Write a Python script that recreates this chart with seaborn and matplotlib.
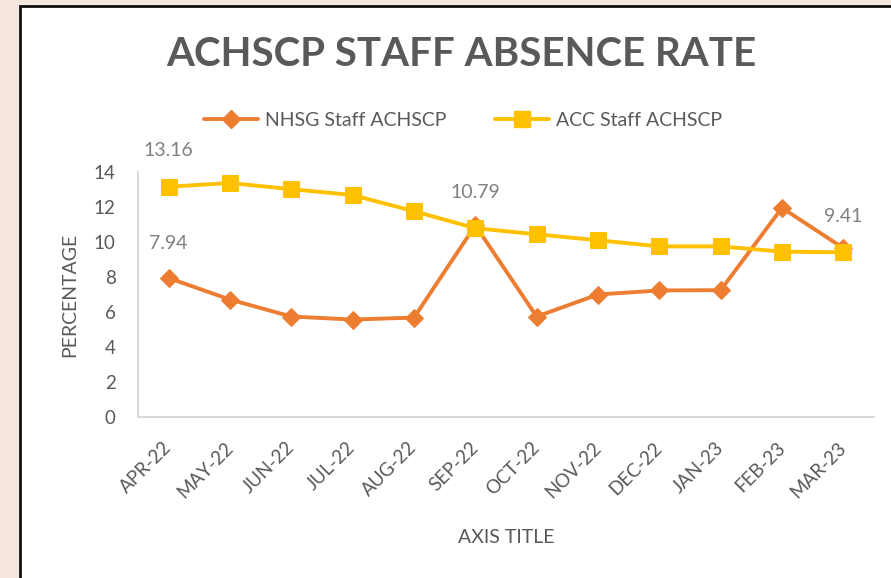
import seaborn as sns
import matplotlib.pyplot as plt
import pandas as pd
from matplotlib.patches import Rectangle
from matplotlib.lines import Line2D

months = ["APR-22", "MAY-22", "JUN-22", "JUL-22", "AUG-22", "SEP-22",
          "OCT-22", "NOV-22", "DEC-22", "JAN-23", "FEB-23", "MAR-23"]
nhsg = [7.94, 6.71, 5.74, 5.57, 5.68, 10.95, 5.74, 7.0, 7.23, 7.25, 11.95, 9.65]
acc = [13.16, 13.37, 13.02, 12.68, 11.76, 10.79, 10.44, 10.1, 9.75, 9.75, 9.45, 9.41]
labels_nhsg = {0: "7.94"}
labels_acc = {0: "13.16", 5: "10.79", 11: "9.41"}

ORANGE = "#ED7D31"
YELLOW = "#FFC000"
GREY = "#595959"

sns.set_style("white")
plt.rcParams['font.family'] = ['Lato', 'DejaVu Sans']

df = pd.DataFrame({"pos": range(len(months)), "month": months, "nhsg": nhsg, "acc": acc})

fig = plt.figure(figsize=(8.91, 5.78), dpi=100)
fig.patch.set_facecolor("#F5E7DE")
fig.patches.append(Rectangle((20 / 891, -0.1), 1.2, 1.1 - 6 / 578, transform=fig.transFigure,
                             facecolor="white", edgecolor="#111111", linewidth=2, zorder=-5))

ax = fig.add_axes([138 / 891, 1 - 417 / 578, (874 - 138) / 891, (417 - 172) / 578])
ax.set_facecolor("none")

sns.lineplot(data=df, x="pos", y="nhsg", ax=ax, color=ORANGE, linewidth=2.8,
             marker="D", markersize=9, markeredgecolor=ORANGE, clip_on=False, zorder=3)
sns.lineplot(data=df, x="pos", y="acc", ax=ax, color=YELLOW, linewidth=2.8,
             marker="s", markersize=11.5, markeredgecolor=YELLOW, clip_on=False, zorder=4)

for i, t in labels_nhsg.items():
    ax.annotate(t, (i, nhsg[i]), xytext=(0, 25), textcoords="offset points",
                ha="center", va="center", fontsize=14, color="#808080")
for i, t in labels_acc.items():
    ax.annotate(t, (i, acc[i]), xytext=(0, 26), textcoords="offset points",
                ha="center", va="center", fontsize=14, color="#808080")

ax.set_xlim(-0.5, len(months) - 0.5)
ax.set_ylim(0, 14)
ax.set_yticks(range(0, 15, 2))
ax.set_xticks(range(len(months)))
ax.set_xticklabels(months, rotation=45, ha="right", va="center", rotation_mode="anchor")
ax.tick_params(axis="y", length=0, pad=16, labelsize=13.5, labelcolor=GREY)
ax.tick_params(axis="x", length=0, pad=20, labelsize=13.5, labelcolor=GREY)

sns.despine(ax=ax)
for side in ["left", "bottom"]:
    ax.spines[side].set_color("#D9D9D9")
    ax.spines[side].set_linewidth(1.5)

ax.set_xlabel("AXIS TITLE", fontsize=14, color=GREY, labelpad=20)
ax.set_ylabel("PERCENTAGE", fontsize=14, color=GREY, labelpad=11)

fig.text(461 / 891, 1 - 55 / 578, "ACHSCP STAFF ABSENCE RATE", ha="center", va="center",
         fontsize=29, fontweight="bold", color=GREY)

handles = [Line2D([], [], color=ORANGE, linewidth=2.8, marker="D", markersize=9),
           Line2D([], [], color=YELLOW, linewidth=2.8, marker="s", markersize=11.5)]
fig.legend(handles, ["NHSG Staff ACHSCP", "ACC Staff ACHSCP"], loc="center",
           bbox_to_anchor=(463 / 891, 1 - 120 / 578), ncol=2, frameon=False,
           fontsize=14, labelcolor=GREY, handlelength=2.8, handletextpad=0.35,
           columnspacing=2.5)

fig.savefig("out.png", dpi=100, facecolor=fig.get_facecolor())
